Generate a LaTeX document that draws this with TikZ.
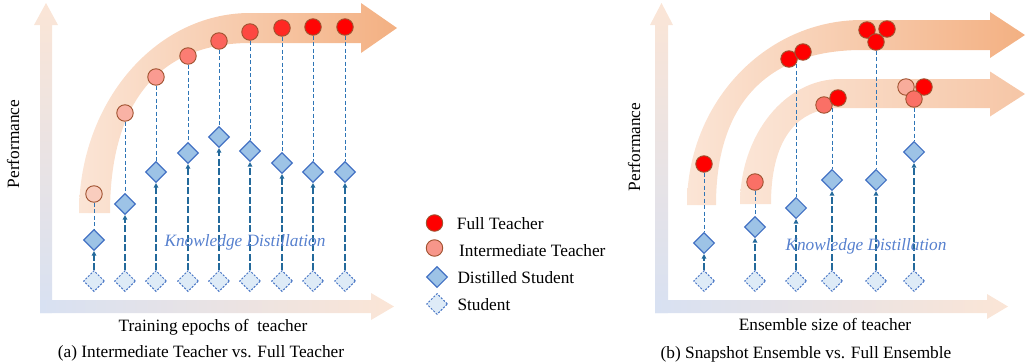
\documentclass[tikz,border=0pt]{standalone}
\usepackage{fontspec}
\setmainfont{Liberation Serif}
\usetikzlibrary{shapes.geometric,arrows.meta}

\definecolor{bandlo}{RGB}{251,229,214}
\definecolor{bandhi}{RGB}{243,176,130}
\definecolor{bandmd}{RGB}{246,198,166}
\definecolor{axblue}{RGB}{216,225,242}
\definecolor{tbrd}{RGB}{160,82,48}
\definecolor{dfill}{RGB}{157,195,230}
\definecolor{dbrd}{RGB}{68,114,196}
\definecolor{sfill}{RGB}{222,235,247}
\definecolor{kdline}{RGB}{46,117,182}
\definecolor{kdarrow}{RGB}{35,105,155}
\definecolor{kdtext}{RGB}{86,128,206}
\definecolor{ta1}{RGB}{249,205,190}
\definecolor{ta2}{RGB}{249,178,165}
\definecolor{ta3}{RGB}{250,155,145}
\definecolor{ta4}{RGB}{251,125,115}
\definecolor{ta5}{RGB}{252,100,92}
\definecolor{ta6}{RGB}{253,72,65}
\definecolor{ta7}{RGB}{255,40,35}
\definecolor{ta8}{RGB}{255,5,5}
\definecolor{ta9}{RGB}{255,0,0}
\definecolor{tfull}{RGB}{255,0,0}
\definecolor{tmid}{RGB}{250,112,102}
\definecolor{tlow}{RGB}{248,172,155}
\definecolor{tleg}{RGB}{247,150,138}

\begin{document}
\begin{tikzpicture}
  [x=1pt,y=-1pt,
   lab/.style={font=\fontsize{17.3}{20}\selectfont,inner sep=0pt},
   kd/.style={inner sep=0pt,font=\fontsize{17.3}{20}\selectfont\itshape,text=kdtext},
   teacher/.style={circle,draw=tbrd,line width=0.9pt,minimum size=16.5pt,inner sep=0pt},
   distilled/.style={diamond,draw=dbrd,fill=dfill,line width=1.1pt,minimum size=21pt,inner sep=0pt},
   student/.style={diamond,draw=dbrd,fill=sfill,line width=1pt,dash pattern=on 2pt off 1.5pt,minimum size=21pt,inner sep=0pt},
   tlink/.style={draw=kdline,line width=0.9pt,dash pattern=on 4pt off 2.5pt},
   slink/.style={draw=kdarrow,line width=1.3pt,dash pattern=on 7pt off 2.5pt,-{Triangle[width=4.5pt,length=4.5pt]}},
   band/.style={left color=bandlo,right color=bandhi}]
  \useasboundingbox (0,0) rectangle (1026,364);

  % performance bands
  \shade[band] (79,213) .. controls (79,102.5) and (155.6,13) .. (250,13) -- (361,13) -- (361,3) -- (397,28)
    -- (361,53) -- (361,43) -- (250,43) .. controls (159,43) and (110,102.5) .. (110,213) -- cycle;
  \shade[band] (687,205) .. controls (687,102.8) and (765.3,20) .. (862,20) -- (990,20) -- (990,12) -- (1025,35)
    -- (990,58) -- (990,50) -- (862,50) .. controls (767,50) and (716,104) .. (716,205) -- cycle;
  \shade[left color=bandlo,right color=bandmd] (740,204) .. controls (740,135) and (784.8,79) .. (840,79) -- (990,79)
    -- (990,71.5) -- (1025,94) -- (990,116.5) -- (990,108) -- (840,108) .. controls (795,108) and (771,141.6) .. (771,204) -- cycle;

  % axes
  \shade[top color=bandlo,bottom color=axblue] (40,313) -- (40,25) -- (34,25) -- (46,3) -- (58,25) -- (52,25) -- (52,313) -- cycle;
  \shade[left color=axblue,right color=bandlo] (40,300) -- (371,300) -- (371,293) -- (394,306.5) -- (371,320) -- (371,313) -- (40,313) -- cycle;
  \shade[top color=bandlo,bottom color=axblue] (655,313) -- (655,25) -- (650,25) -- (661.5,3) -- (673,25) -- (668,25) -- (668,313) -- cycle;
  \shade[left color=axblue,right color=bandlo] (655,300) -- (987,300) -- (987,294) -- (1008,306.5) -- (987,319) -- (987,313) -- (655,313) -- cycle;

  % (a) intermediate teachers
  \foreach \i/\x/\ty/\dy in {1/94/194/240, 2/125/113/204, 3/156/77/172, 4/188/56/153, 5/219/41/137,
                             6/250/32/151, 7/282/28/163, 8/313/27/172, 9/345/27/172}
  {
    \node[teacher,fill=ta\i] (ta\i) at (\x,\ty) {};
    \node[distilled] (da\i) at (\x,\dy) {};
    \node[student] (sa\i) at (\x,281) {};
    \draw[tlink] (ta\i) -- (da\i);
    \draw[slink] (sa\i) -- (da\i);
  }

  % (b) ensembles
  \foreach \i/\x/\dy in {1/704/243, 2/755/227, 3/796/208, 4/832/180, 5/876/180, 6/914/152}
  {
    \node[distilled] (db\i) at (\x,\dy) {};
    \node[student] (sb\i) at (\x,281) {};
  }
  \node[teacher,fill=tfull] (tb1) at (704,164) {};
  \node[teacher,fill=tmid] (tb2) at (755,182) {};
  \node[teacher,fill=tfull] (tb3a) at (789,59) {};
  \node[teacher,fill=tfull] (tb3b) at (803,52) {};
  \node[teacher,fill=tmid] (tb4a) at (824,105) {};
  \node[teacher,fill=tfull] (tb4b) at (838,98) {};
  \node[teacher,fill=tfull] (tb5a) at (867,30) {};
  \node[teacher,fill=tfull] (tb5b) at (887,29) {};
  \node[teacher,fill=tfull] (tb5c) at (876,42) {};
  \node[teacher,fill=tlow] (tb6a) at (906,87) {};
  \node[teacher,fill=tfull] (tb6b) at (924,87) {};
  \node[teacher,fill=tmid] (tb6c) at (914,99) {};
  \coordinate (tb3) at (796,64);
  \coordinate (tb4) at (832,108);
  \foreach \from/\to in {tb1/db1, tb2/db2, tb3/db3, tb4/db4, tb5c/db5, tb6c/db6}
    \draw[tlink] (\from) -- (\to);
  \foreach \i in {1,...,6}
    \draw[slink] (sb\i) -- (db\i);

  % legend
  \node[teacher,fill=tfull] (lg1) at (434.5,223) {};
  \node[teacher,fill=tleg] (lg2) at (434.5,248) {};
  \node[distilled] (lg3) at (437,277) {};
  \node[student] (lg4) at (437,304) {};
  \node[lab,anchor=base west] (lt1) at (456.7,229) {Full Teacher};
  \node[lab,anchor=base west] (lt2) at (459,256) {Intermediate Teacher};
  \node[lab,anchor=base west] (lt3) at (457.3,283) {Distilled Student};
  \node[lab,anchor=base west] (lt4) at (457.3,310) {Student};

  % labels
  \node[kd,anchor=base] (kda) at (245,246) {Knowledge Distillation};
  \node[kd,anchor=base] (kdb) at (866,250) {Knowledge Distillation};
  \node[lab,rotate=90] (pa) at (13,144) {Performance};
  \node[lab,rotate=90] (pb) at (634,147) {Performance};
  \node[lab,anchor=base] (xa) at (213,331.5) {Training epochs of \ teacher};
  \node[lab,anchor=base] (xb) at (825,330.5) {Ensemble size of teacher};
  \node[lab,anchor=base] (ca) at (201,357) {(a) Intermediate Teacher vs. Full Teacher};
  \node[lab,anchor=base] (cb) at (806,358) {(b) Snapshot Ensemble vs. Full Ensemble};
\end{tikzpicture}
\end{document}
